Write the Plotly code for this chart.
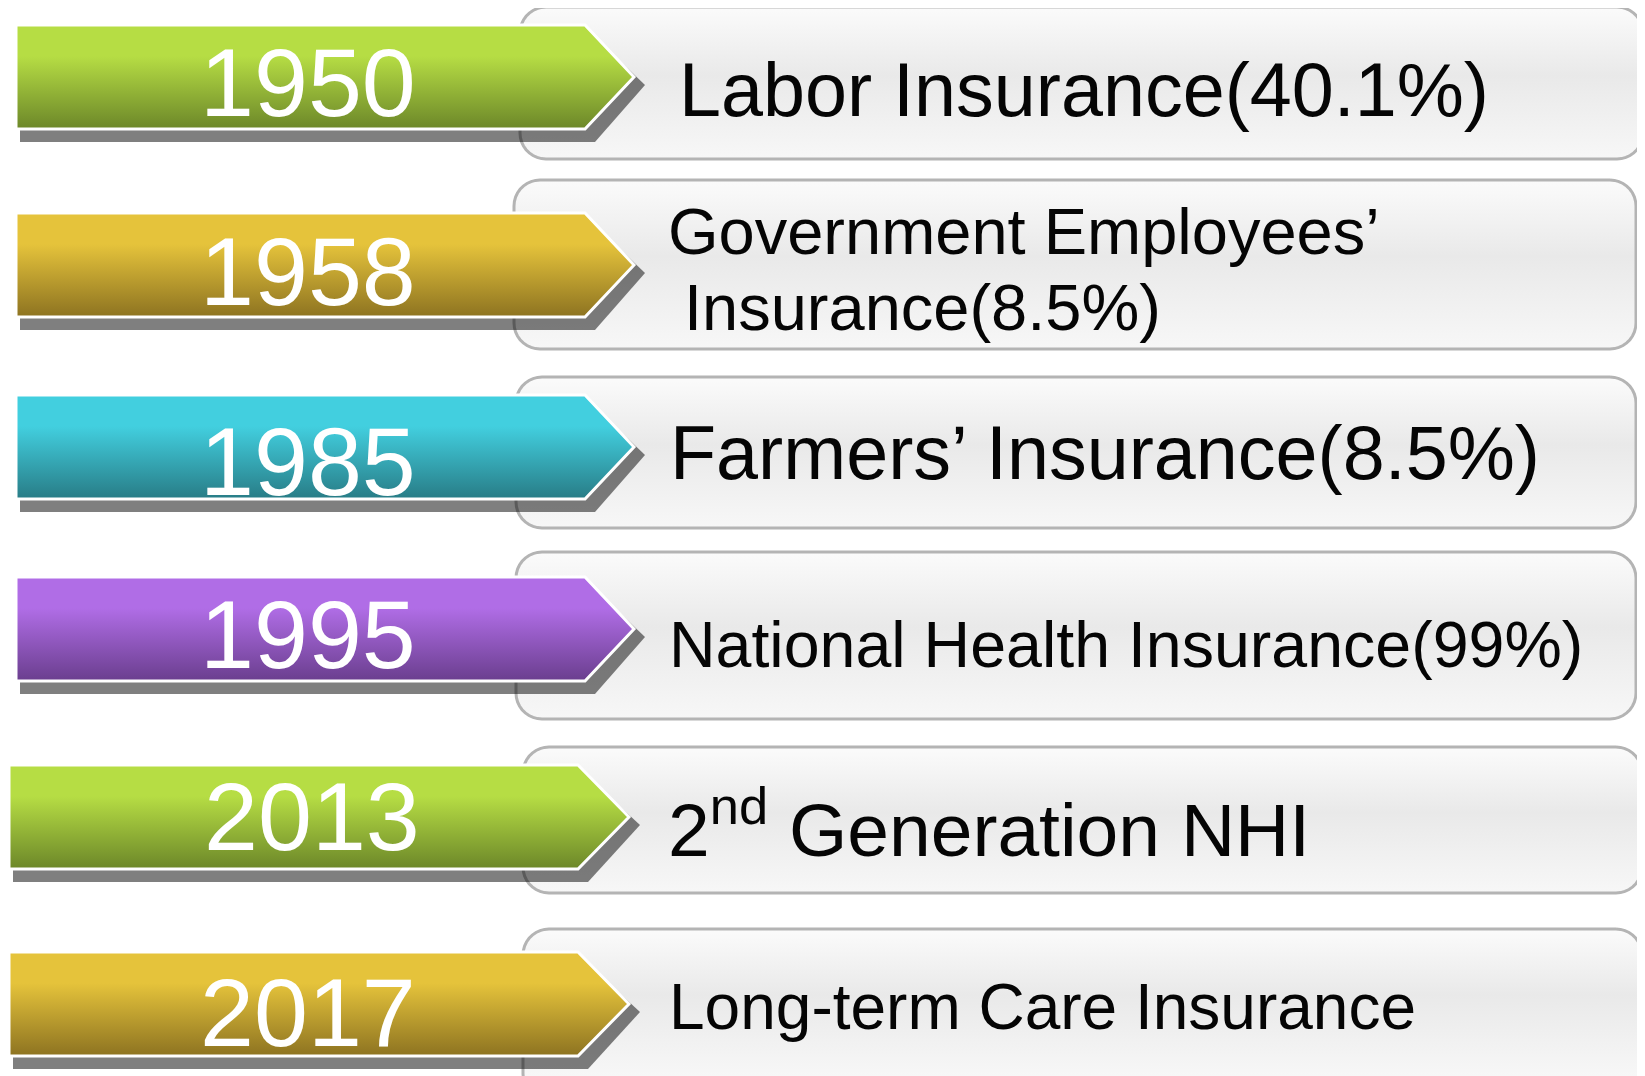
import numpy as np
import plotly.graph_objects as go

# ---------------- data ----------------
years = ["1950", "1958", "1985", "1995", "2013", "2017"]
descriptions = [
    ["Labor Insurance(40.1%)"],
    ["Government Employees’", "Insurance(8.5%)"],
    ["Farmers’ Insurance(8.5%)"],
    ["National Health Insurance(99%)"],
    ["2<sup>nd</sup> Generation NHI"],
    ["Long-term Care Insurance"],
]
arrow_top_colors = ["#b6dd44", "#e5c33b", "#42cfdf", "#b06de6", "#b6dd44", "#e5c33b"]
arrow_bottom_colors = ["#6c8729", "#8d7321", "#287c86", "#6a3e8e", "#6c8729", "#8d7321"]

# ---------------- layout geometry (pixels) ----------------
W, H = 1645, 1076
PAGE_OFFSET = 8  # default body margin of the html page
arrow_top = [25, 213, 395, 577, 765, 952]
arrow_h = 104
arrow_left = [16, 16, 16, 16, 9, 9]
body_right = [585, 585, 585, 585, 578, 578]
tip_x = [634, 634, 634, 634, 629, 629]
box_top = [7, 180, 377, 552, 747, 929]
box_bot = [159, 349, 528, 719, 893, 1100]
box_left = [520, 514, 516, 516, 523, 523]
box_right = [1643, 1636, 1636, 1636, 1642, 1642]
year_x = [308, 308, 308, 308, 312, 308]
year_y = [82, 271, 461, 634, 816, 1012]
desc_x = [677, 666, 668, 667, 666, 667]
desc_y = [[90], [231, 307], [453], [645], [824], [1007]]
desc_size = [75.5, 65, 75.5, 64.5, 75, 64]
desc_line_x_extra = [[0], [0, 16], [0], [0], [0], [0]]

FONT = "Liberation Sans, Arial, Helvetica, sans-serif"


def rounded_rect(x0, y0, x1, y1, r, n=10):
    xs, ys = [], []
    corners = [
        (x1 - r, y0 + r, -np.pi / 2, 0),
        (x1 - r, y1 - r, 0, np.pi / 2),
        (x0 + r, y1 - r, np.pi / 2, np.pi),
        (x0 + r, y0 + r, np.pi, 1.5 * np.pi),
    ]
    for cx, cy, a0, a1 in corners:
        t = np.linspace(a0, a1, n)
        xs += list(cx + r * np.cos(t))
        ys += list(cy + r * np.sin(t))
    xs.append(xs[0])
    ys.append(ys[0])
    return xs, ys


fig = go.Figure()

# boxes
for i in range(len(years)):
    xs, ys = rounded_rect(box_left[i], box_top[i], box_right[i], box_bot[i], 26)
    stop = min(box_bot[i], H)
    fig.add_trace(go.Scatter(
        x=xs, y=ys, mode="lines", fill="toself",
        line=dict(color="#b4b4b4", width=3),
        fillgradient=dict(type="vertical", start=box_top[i], stop=stop,
                          colorscale=[[0, "#fbfbfb"], [0.45, "#e9e9e9"], [1, "#f7f7f7"]]),
        hoverinfo="skip", showlegend=False))

# arrow shadows
for i in range(len(years)):
    t, b = arrow_top[i], arrow_top[i] + arrow_h
    my = (t + b) / 2
    xs = [arrow_left[i] + 4, body_right[i] + 9, tip_x[i] + 11, body_right[i] + 10, arrow_left[i] + 4, arrow_left[i] + 4]
    ys = [t + 11, t + 11, my + 8, b + 13, b + 13, t + 11]
    fig.add_trace(go.Scatter(
        x=xs, y=ys, mode="lines", fill="toself",
        fillcolor="rgba(0,0,0,0.5)", line=dict(width=0, color="rgba(0,0,0,0)"),
        hoverinfo="skip", showlegend=False))

# arrows
for i in range(len(years)):
    t, b = arrow_top[i], arrow_top[i] + arrow_h
    my = (t + b) / 2
    xs = [arrow_left[i], body_right[i], tip_x[i], body_right[i], arrow_left[i], arrow_left[i]]
    ys = [t, t, my, b, b, t]
    fig.add_trace(go.Scatter(
        x=xs, y=ys, mode="lines", fill="toself",
        line=dict(color="white", width=3),
        fillgradient=dict(type="vertical", start=t, stop=b,
                          colorscale=[[0, arrow_top_colors[i]], [0.3, arrow_top_colors[i]],
                                      [1, arrow_bottom_colors[i]]]),
        hoverinfo="skip", showlegend=False))

annotations = []
for i, yr in enumerate(years):
    annotations.append(dict(
        x=year_x[i], y=year_y[i], xref="x", yref="y", text=yr, showarrow=False,
        xanchor="center", yanchor="middle",
        font=dict(family=FONT, size=97, color="white")))
    for j, line in enumerate(descriptions[i]):
        annotations.append(dict(
            x=desc_x[i] + desc_line_x_extra[i][j], y=desc_y[i][j], xref="x", yref="y",
            text=line, showarrow=False, xanchor="left", yanchor="middle",
            font=dict(family=FONT, size=desc_size[i], color="#050505")))

fig.update_layout(
    width=W, height=H,
    margin=dict(l=0, r=0, t=0, b=0),
    paper_bgcolor="white", plot_bgcolor="white",
    xaxis=dict(range=[PAGE_OFFSET, W + PAGE_OFFSET], visible=False, fixedrange=True),
    yaxis=dict(range=[H + PAGE_OFFSET, PAGE_OFFSET], visible=False, fixedrange=True),
    annotations=annotations,
    showlegend=False,
)

fig.write_html("out.html", config={"displayModeBar": False})
